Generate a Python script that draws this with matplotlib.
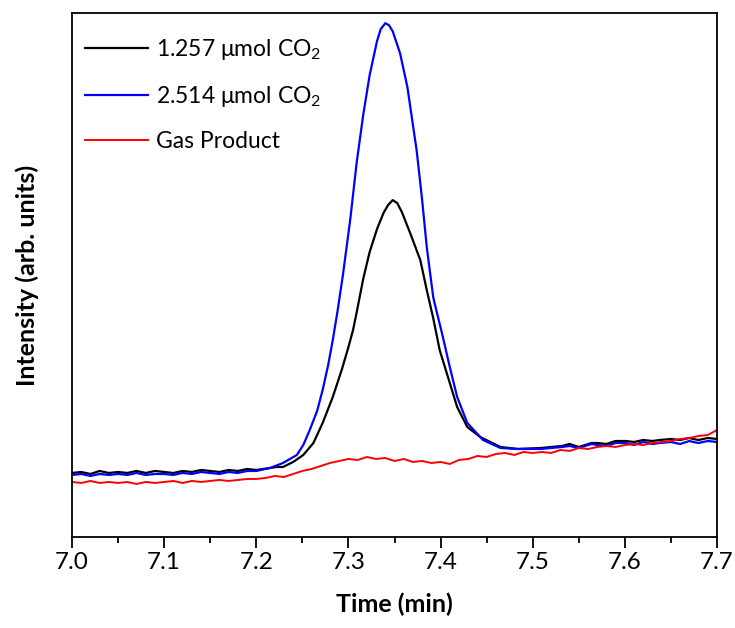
import numpy as np
import matplotlib
matplotlib.use('Agg')
from matplotlib import pyplot as plt
from matplotlib.ticker import MultipleLocator, FormatStrFormatter

plt.rcParams['font.family'] = ['Lato', 'DejaVu Sans']
plt.rcParams['mathtext.fontset'] = 'custom'
plt.rcParams['mathtext.rm'] = 'Lato'
plt.rcParams['mathtext.it'] = 'Lato:italic'

# time (min) and intensity (arb. units)
t_blue = [7.000, 7.010, 7.020, 7.030, 7.040, 7.050, 7.060, 7.070, 7.080, 7.090,
          7.100, 7.110, 7.120, 7.130, 7.140, 7.150, 7.160, 7.170, 7.180, 7.190,
          7.200, 7.215, 7.229, 7.244, 7.251, 7.258, 7.266, 7.272, 7.278, 7.283,
          7.288, 7.294, 7.302, 7.309, 7.316, 7.323, 7.331, 7.335, 7.340, 7.344,
          7.348, 7.356, 7.364, 7.370, 7.374, 7.380, 7.385, 7.392, 7.394, 7.402,
          7.410, 7.418, 7.429, 7.446, 7.465, 7.484, 7.509, 7.520, 7.532, 7.540,
          7.550, 7.564, 7.570, 7.580, 7.590, 7.601, 7.610, 7.620, 7.630, 7.638,
          7.650, 7.660, 7.670, 7.674, 7.680, 7.690, 7.700]
i_blue = [62, 63, 61, 63, 62, 63, 62, 64, 62, 63,
          63, 62, 64, 63, 65, 64, 63, 65, 64, 66,
          66, 69, 74, 82, 92, 107, 126, 147, 172, 197,
          225, 262, 318, 375, 422, 462, 496, 508, 514, 512,
          506, 484, 450, 412, 387, 337, 290, 240, 232, 202,
          170, 140, 114, 97, 89, 88, 88, 89, 90, 91,
          89, 93, 92, 91, 94, 94, 92, 95, 93, 94,
          95, 93, 96, 95, 94, 96, 95]

t_black = [7.000, 7.010, 7.020, 7.030, 7.040, 7.050, 7.060, 7.070, 7.080, 7.090,
           7.100, 7.110, 7.120, 7.130, 7.140, 7.150, 7.160, 7.170, 7.180, 7.190,
           7.200, 7.222, 7.229, 7.240, 7.251, 7.262, 7.272, 7.283, 7.293, 7.300,
           7.305, 7.309, 7.316, 7.323, 7.331, 7.338, 7.343, 7.348, 7.353, 7.358,
           7.367, 7.378, 7.385, 7.392, 7.399, 7.410, 7.418, 7.429, 7.443, 7.465,
           7.484, 7.509, 7.520, 7.532, 7.540, 7.550, 7.564, 7.570, 7.580, 7.590,
           7.601, 7.610, 7.620, 7.630, 7.638, 7.650, 7.660, 7.670, 7.674, 7.680,
           7.690, 7.700]
i_black = [64, 65, 63, 66, 64, 65, 64, 66, 64, 66,
           65, 64, 66, 65, 67, 66, 65, 67, 66, 68,
           67, 70, 70, 75, 82, 94, 114, 140, 168, 190,
           207, 225, 258, 285, 308, 324, 332, 337, 334, 325,
           304, 277, 247, 219, 187, 154, 130, 110, 100, 90,
           88, 89, 90, 91, 93, 90, 94, 94, 93, 96,
           96, 95, 97, 96, 97, 98, 97, 99, 98, 97,
           99, 98]

t_red = [7.000, 7.010, 7.020, 7.030, 7.040, 7.050, 7.060, 7.070, 7.080, 7.090,
         7.100, 7.110, 7.120, 7.130, 7.140, 7.150, 7.160, 7.170, 7.180, 7.190,
         7.200, 7.210, 7.220, 7.230, 7.240, 7.250, 7.260, 7.270, 7.280, 7.290,
         7.300, 7.310, 7.320, 7.330, 7.340, 7.350, 7.360, 7.370, 7.380, 7.390,
         7.400, 7.410, 7.420, 7.430, 7.440, 7.450, 7.460, 7.470, 7.480, 7.490,
         7.500, 7.510, 7.520, 7.530, 7.540, 7.550, 7.560, 7.570, 7.580, 7.590,
         7.600, 7.610, 7.620, 7.630, 7.640, 7.650, 7.660, 7.670, 7.680, 7.690,
         7.700]
i_red = [55, 54, 56, 54, 55, 54, 55, 53, 55, 54,
         55, 56, 54, 56, 55, 56, 57, 56, 57, 58,
         58, 59, 61, 60, 63, 66, 68, 71, 74, 76,
         78, 77, 80, 78, 79, 76, 78, 75, 76, 74,
         75, 73, 77, 78, 81, 80, 83, 84, 82, 85,
         84, 85, 84, 87, 86, 89, 88, 90, 91, 90,
         92, 93, 92, 94, 95, 96, 98, 99, 101, 102,
         107]

labels = ['1.257 μmol CO$_2$', '2.514 μmol CO$_2$', 'Gas Product']

fig = plt.figure(figsize=(7.35, 6.28), dpi=100)
ax = fig.add_axes([0.098, 0.145, 0.8775, 0.834])

ax.plot(t_black, i_black, color='black', lw=1.6, label=labels[0])
ax.plot(t_blue, i_blue, color='#0000ff', lw=1.6, label=labels[1])
ax.plot(t_red, i_red, color='#ff0000', lw=1.4, label=labels[2])

ax.set_xlim(7.0, 7.7)
ax.set_ylim(0, 524)
ax.xaxis.set_major_locator(MultipleLocator(0.1))
ax.xaxis.set_minor_locator(MultipleLocator(0.05))
ax.xaxis.set_major_formatter(FormatStrFormatter('%.1f'))
ax.tick_params(axis='x', which='major', direction='out', length=8, width=1.3,
               labelsize=17.5, pad=3)
ax.tick_params(axis='x', which='minor', direction='out', length=4, width=1.3)
ax.set_yticks([])
for s in ax.spines.values():
    s.set_linewidth(1.3)

ax.set_xlabel('Time (min)', fontsize=18, fontweight='bold', labelpad=14)
ax.set_ylabel('Intensity (arb. units)', fontsize=18, fontweight='bold', labelpad=24)

ax.legend(loc='upper left', bbox_to_anchor=(0.0, 0.978), frameon=False,
          fontsize=16.5, handlelength=2.75, labelspacing=0.95,
          borderaxespad=0.0, handletextpad=0.35, borderpad=0.55)

fig.savefig('out.png', dpi=100)
